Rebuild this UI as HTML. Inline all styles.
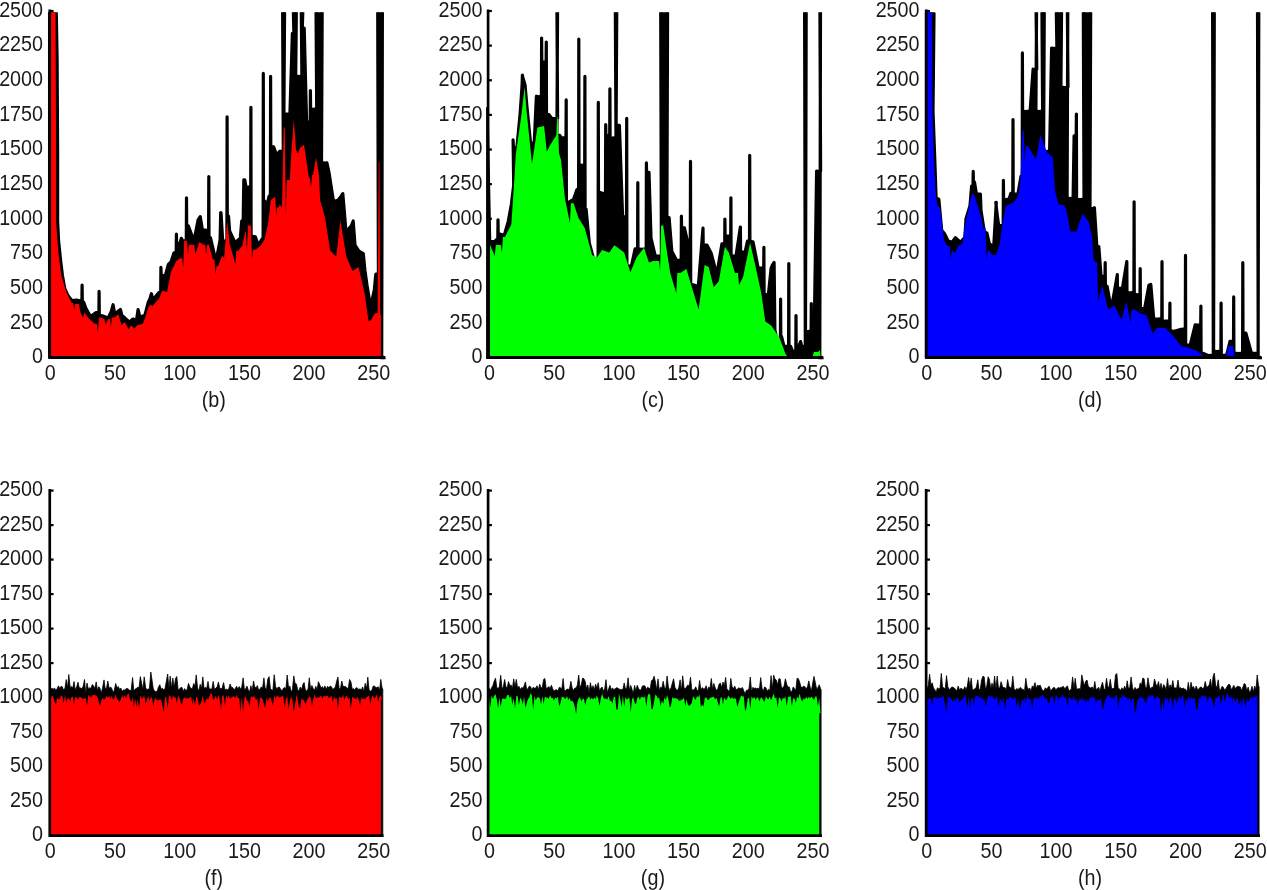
<!DOCTYPE html>
<html><head><meta charset="utf-8"><style>
html,body{margin:0;padding:0;background:#fff;}
body{width:1267px;height:890px;overflow:hidden;}
svg{display:block;}
text{will-change:transform;}
</style></head><body>
<svg width="1267" height="890" viewBox="0 0 1267 890"><rect width="1267" height="890" fill="#fff"/><clipPath id="cp00"><rect x="47.75" y="12.3" width="340" height="347.0"/></clipPath><clipPath id="cp01"><rect x="486.1" y="12.3" width="340" height="347.0"/></clipPath><clipPath id="cp02"><rect x="924.15" y="12.3" width="340" height="347.0"/></clipPath><clipPath id="cp10"><rect x="47.75" y="489.6" width="340" height="348.0"/></clipPath><clipPath id="cp11"><rect x="486.1" y="489.6" width="340" height="348.0"/></clipPath><clipPath id="cp12"><rect x="924.15" y="489.6" width="340" height="348.0"/></clipPath><line x1="49.75" y1="357.30" x2="53.55" y2="357.30" stroke="#000" stroke-width="2.2"/><line x1="49.75" y1="322.67" x2="53.55" y2="322.67" stroke="#000" stroke-width="2.2"/><line x1="49.75" y1="288.04" x2="53.55" y2="288.04" stroke="#000" stroke-width="2.2"/><line x1="49.75" y1="253.41" x2="53.55" y2="253.41" stroke="#000" stroke-width="2.2"/><line x1="49.75" y1="218.78" x2="53.55" y2="218.78" stroke="#000" stroke-width="2.2"/><line x1="49.75" y1="184.15" x2="53.55" y2="184.15" stroke="#000" stroke-width="2.2"/><line x1="49.75" y1="149.52" x2="53.55" y2="149.52" stroke="#000" stroke-width="2.2"/><line x1="49.75" y1="114.89" x2="53.55" y2="114.89" stroke="#000" stroke-width="2.2"/><line x1="49.75" y1="80.26" x2="53.55" y2="80.26" stroke="#000" stroke-width="2.2"/><line x1="49.75" y1="45.63" x2="53.55" y2="45.63" stroke="#000" stroke-width="2.2"/><line x1="49.75" y1="11.00" x2="53.55" y2="11.00" stroke="#000" stroke-width="2.2"/><line x1="488.1" y1="357.30" x2="491.90000000000003" y2="357.30" stroke="#000" stroke-width="2.2"/><line x1="488.1" y1="322.67" x2="491.90000000000003" y2="322.67" stroke="#000" stroke-width="2.2"/><line x1="488.1" y1="288.04" x2="491.90000000000003" y2="288.04" stroke="#000" stroke-width="2.2"/><line x1="488.1" y1="253.41" x2="491.90000000000003" y2="253.41" stroke="#000" stroke-width="2.2"/><line x1="488.1" y1="218.78" x2="491.90000000000003" y2="218.78" stroke="#000" stroke-width="2.2"/><line x1="488.1" y1="184.15" x2="491.90000000000003" y2="184.15" stroke="#000" stroke-width="2.2"/><line x1="488.1" y1="149.52" x2="491.90000000000003" y2="149.52" stroke="#000" stroke-width="2.2"/><line x1="488.1" y1="114.89" x2="491.90000000000003" y2="114.89" stroke="#000" stroke-width="2.2"/><line x1="488.1" y1="80.26" x2="491.90000000000003" y2="80.26" stroke="#000" stroke-width="2.2"/><line x1="488.1" y1="45.63" x2="491.90000000000003" y2="45.63" stroke="#000" stroke-width="2.2"/><line x1="488.1" y1="11.00" x2="491.90000000000003" y2="11.00" stroke="#000" stroke-width="2.2"/><line x1="926.15" y1="357.30" x2="929.9499999999999" y2="357.30" stroke="#000" stroke-width="2.2"/><line x1="926.15" y1="322.67" x2="929.9499999999999" y2="322.67" stroke="#000" stroke-width="2.2"/><line x1="926.15" y1="288.04" x2="929.9499999999999" y2="288.04" stroke="#000" stroke-width="2.2"/><line x1="926.15" y1="253.41" x2="929.9499999999999" y2="253.41" stroke="#000" stroke-width="2.2"/><line x1="926.15" y1="218.78" x2="929.9499999999999" y2="218.78" stroke="#000" stroke-width="2.2"/><line x1="926.15" y1="184.15" x2="929.9499999999999" y2="184.15" stroke="#000" stroke-width="2.2"/><line x1="926.15" y1="149.52" x2="929.9499999999999" y2="149.52" stroke="#000" stroke-width="2.2"/><line x1="926.15" y1="114.89" x2="929.9499999999999" y2="114.89" stroke="#000" stroke-width="2.2"/><line x1="926.15" y1="80.26" x2="929.9499999999999" y2="80.26" stroke="#000" stroke-width="2.2"/><line x1="926.15" y1="45.63" x2="929.9499999999999" y2="45.63" stroke="#000" stroke-width="2.2"/><line x1="926.15" y1="11.00" x2="929.9499999999999" y2="11.00" stroke="#000" stroke-width="2.2"/><line x1="49.75" y1="835.60" x2="53.55" y2="835.60" stroke="#000" stroke-width="2.2"/><line x1="49.75" y1="801.10" x2="53.55" y2="801.10" stroke="#000" stroke-width="2.2"/><line x1="49.75" y1="766.60" x2="53.55" y2="766.60" stroke="#000" stroke-width="2.2"/><line x1="49.75" y1="732.10" x2="53.55" y2="732.10" stroke="#000" stroke-width="2.2"/><line x1="49.75" y1="697.60" x2="53.55" y2="697.60" stroke="#000" stroke-width="2.2"/><line x1="49.75" y1="663.10" x2="53.55" y2="663.10" stroke="#000" stroke-width="2.2"/><line x1="49.75" y1="628.60" x2="53.55" y2="628.60" stroke="#000" stroke-width="2.2"/><line x1="49.75" y1="594.10" x2="53.55" y2="594.10" stroke="#000" stroke-width="2.2"/><line x1="49.75" y1="559.60" x2="53.55" y2="559.60" stroke="#000" stroke-width="2.2"/><line x1="49.75" y1="525.10" x2="53.55" y2="525.10" stroke="#000" stroke-width="2.2"/><line x1="49.75" y1="490.60" x2="53.55" y2="490.60" stroke="#000" stroke-width="2.2"/><line x1="488.1" y1="835.60" x2="491.90000000000003" y2="835.60" stroke="#000" stroke-width="2.2"/><line x1="488.1" y1="801.10" x2="491.90000000000003" y2="801.10" stroke="#000" stroke-width="2.2"/><line x1="488.1" y1="766.60" x2="491.90000000000003" y2="766.60" stroke="#000" stroke-width="2.2"/><line x1="488.1" y1="732.10" x2="491.90000000000003" y2="732.10" stroke="#000" stroke-width="2.2"/><line x1="488.1" y1="697.60" x2="491.90000000000003" y2="697.60" stroke="#000" stroke-width="2.2"/><line x1="488.1" y1="663.10" x2="491.90000000000003" y2="663.10" stroke="#000" stroke-width="2.2"/><line x1="488.1" y1="628.60" x2="491.90000000000003" y2="628.60" stroke="#000" stroke-width="2.2"/><line x1="488.1" y1="594.10" x2="491.90000000000003" y2="594.10" stroke="#000" stroke-width="2.2"/><line x1="488.1" y1="559.60" x2="491.90000000000003" y2="559.60" stroke="#000" stroke-width="2.2"/><line x1="488.1" y1="525.10" x2="491.90000000000003" y2="525.10" stroke="#000" stroke-width="2.2"/><line x1="488.1" y1="490.60" x2="491.90000000000003" y2="490.60" stroke="#000" stroke-width="2.2"/><line x1="926.15" y1="835.60" x2="929.9499999999999" y2="835.60" stroke="#000" stroke-width="2.2"/><line x1="926.15" y1="801.10" x2="929.9499999999999" y2="801.10" stroke="#000" stroke-width="2.2"/><line x1="926.15" y1="766.60" x2="929.9499999999999" y2="766.60" stroke="#000" stroke-width="2.2"/><line x1="926.15" y1="732.10" x2="929.9499999999999" y2="732.10" stroke="#000" stroke-width="2.2"/><line x1="926.15" y1="697.60" x2="929.9499999999999" y2="697.60" stroke="#000" stroke-width="2.2"/><line x1="926.15" y1="663.10" x2="929.9499999999999" y2="663.10" stroke="#000" stroke-width="2.2"/><line x1="926.15" y1="628.60" x2="929.9499999999999" y2="628.60" stroke="#000" stroke-width="2.2"/><line x1="926.15" y1="594.10" x2="929.9499999999999" y2="594.10" stroke="#000" stroke-width="2.2"/><line x1="926.15" y1="559.60" x2="929.9499999999999" y2="559.60" stroke="#000" stroke-width="2.2"/><line x1="926.15" y1="525.10" x2="929.9499999999999" y2="525.10" stroke="#000" stroke-width="2.2"/><line x1="926.15" y1="490.60" x2="929.9499999999999" y2="490.60" stroke="#000" stroke-width="2.2"/><g clip-path="url(#cp00)"><polygon points="49.5,357.3 49.5,11.1 52.0,11.0 54.3,13.0 56.3,13.0 57.1,60.0 57.6,150.0 57.6,221.0 58.6,241.1 60.8,262.2 62.4,275.2 64.8,288.7 68.1,295.8 72.0,300.7 76.5,300.0 78.6,300.8 81.9,300.4 82.1,285.0 82.3,302.0 83.6,302.1 86.0,308.6 90.5,316.6 96.1,312.5 98.9,312.2 99.1,291.3 99.3,315.4 102.2,315.8 108.0,318.1 111.2,311.6 113.1,304.7 114.7,314.1 120.4,309.4 121.8,315.1 129.5,322.1 132.9,319.0 136.5,320.3 138.1,309.5 139.9,317.3 144.9,315.2 148.3,302.2 150.0,298.7 151.4,293.7 152.8,300.0 158.7,292.7 160.7,292.5 160.9,267.3 161.2,275.6 165.3,275.7 168.4,264.4 171.0,261.9 174.0,252.8 176.2,252.7 176.4,234.2 176.6,243.3 180.0,243.4 181.3,238.3 182.5,240.8 186.3,240.5 186.5,197.8 186.7,225.7 188.3,225.8 194.0,241.0 198.1,219.8 200.2,216.6 202.4,229.8 206.1,230.2 208.6,229.7 208.8,176.6 209.0,237.8 210.5,237.9 216.0,261.5 220.1,240.1 220.7,212.5 221.0,212.5 222.7,241.2 226.9,241.1 227.1,116.8 227.3,216.1 228.5,216.2 229.6,230.9 235.0,242.7 240.3,238.3 241.7,221.2 243.2,220.2 243.8,179.8 244.8,179.9 246.0,187.2 250.7,187.1 250.9,107.3 251.1,235.7 253.0,236.2 255.3,236.7 258.3,245.3 262.2,238.9 263.1,238.7 263.3,73.4 263.5,201.1 264.8,201.2 266.8,206.8 269.1,196.2 270.4,196.1 270.6,76.4 270.8,146.6 273.6,146.8 276.5,155.1 279.5,151.4 283.3,151.1 282.6,5.0 284.6,5.0 283.9,114.1 289.9,114.1 292.4,33.4 293.9,33.4 293.2,5.0 296.4,5.0 295.7,76.1 298.9,76.6 301.9,76.1 301.2,5.0 303.0,5.0 302.3,28.1 304.2,28.1 306.6,122.1 310.2,122.2 310.4,90.5 310.6,108.9 312.6,109.3 316.7,108.8 316.0,5.0 322.2,5.0 321.5,162.6 325.2,163.1 326.9,162.8 329.0,172.6 333.5,201.6 338.0,200.3 341.2,196.1 342.8,193.6 346.0,232.0 351.3,225.9 353.2,221.0 355.0,245.2 358.9,251.2 363.3,253.7 364.9,270.2 367.0,285.3 370.6,306.9 374.3,290.2 375.8,274.2 378.4,274.1 377.7,5.0 382.4,5.0 381.7,359.1 384.0,359.6 384.0,357.3" fill="#000" stroke="#000" stroke-width="3.2" stroke-linejoin="round"/><polygon points="50.5,357.3 50.5,12.0 55.5,12.0 56.1,150.0 56.1,221.0 58.2,251.0 61.2,275.0 66.3,292.1 71.8,303.1 73.2,303.1 74.2,310.3 75.2,303.9 76.6,303.9 78.9,304.0 80.5,312.6 82.9,317.4 84.5,312.6 89.2,318.9 94.7,323.7 96.9,323.7 97.9,332.4 98.9,317.4 100.3,317.4 104.2,318.9 105.8,324.5 108.1,318.9 109.9,318.9 110.9,326.8 111.9,317.4 114.5,317.4 118.4,314.2 121.6,325.2 124.7,322.1 128.7,329.2 131.0,325.2 134.2,328.4 137.3,325.2 142.9,323.7 145.2,317.4 148.4,307.1 150.8,304.7 152.3,306.3 156.3,301.6 158.9,298.7 162.3,290.6 167.0,292.0 171.0,271.7 176.4,261.0 179.8,258.2 182.2,258.2 183.2,267.7 184.2,240.7 185.9,240.7 186.9,240.7 187.9,254.2 188.9,244.8 191.3,244.8 194.3,244.8 195.3,254.2 199.4,242.1 203.4,244.8 205.1,244.8 206.1,254.2 207.1,244.8 208.8,244.8 212.9,259.6 214.5,259.6 215.5,274.4 216.5,265.9 218.1,265.9 222.1,255.8 224.1,257.8 227.2,221.4 229.7,243.7 235.3,263.9 236.3,250.7 238.3,250.7 242.3,245.7 245.4,231.5 245.9,231.5 246.9,251.8 247.9,225.5 249.4,225.5 251.0,225.5 252.0,259.9 253.0,249.7 255.5,249.7 260.6,245.7 264.6,239.6 268.6,220.4 270.7,200.2 274.7,197.1 275.2,197.1 276.2,215.3 277.2,207.3 278.8,207.3 279.7,204.3 282.0,208.0 283.7,127.4 284.8,127.4 285.8,215.4 286.8,180.0 289.8,180.0 291.5,150.0 293.8,119.3 296.0,150.0 297.9,153.6 300.0,148.0 304.0,144.5 307.0,165.0 309.0,177.9 310.0,177.9 311.0,188.0 312.0,175.0 313.0,175.0 316.0,157.7 319.0,175.0 320.1,200.2 323.0,210.0 325.2,218.4 330.2,250.8 336.3,256.8 340.3,220.4 346.4,256.8 352.5,271.0 358.5,266.9 364.6,293.2 368.6,321.5 371.0,320.0 374.7,313.4 377.6,313.0 378.7,162.0 379.5,162.0 380.2,313.0 380.9,315.0 380.9,358.0 380.9,357.3" fill="#ff0000"/></g><g clip-path="url(#cp01)"><polygon points="487.0,357.3 487.0,108.5 489.7,241.3 494.6,241.7 496.6,239.5 497.8,239.2 498.0,219.8 498.2,233.6 499.9,234.0 504.2,235.5 508.2,221.6 511.4,204.2 513.7,185.2 513.1,139.8 513.4,147.5 516.9,147.5 520.1,114.1 522.1,85.2 522.4,75.0 522.6,76.8 525.0,84.6 527.0,107.3 530.4,141.3 534.0,147.9 536.4,96.2 538.7,96.7 541.4,96.2 541.6,38.0 541.8,61.8 543.6,62.2 546.1,61.8 546.3,42.0 546.5,114.3 549.0,114.6 552.0,118.6 557.6,118.3 556.9,5.0 557.6,5.0 556.9,135.1 559.7,135.4 561.2,137.9 566.0,137.7 566.2,99.9 566.4,201.8 569.1,202.2 573.5,199.3 576.9,189.7 578.6,189.5 578.8,39.0 579.0,164.8 582.2,165.3 584.7,164.8 584.9,76.4 585.1,209.1 586.1,209.2 589.3,243.0 593.6,258.8 598.1,258.6 598.3,102.3 598.5,192.0 600.4,192.5 602.9,193.6 605.5,193.1 605.7,124.6 605.9,135.2 608.1,135.6 609.7,135.1 609.9,88.8 610.1,137.6 612.6,138.1 616.0,137.6 615.3,5.0 616.8,5.0 616.1,125.3 619.4,125.4 622.6,216.8 626.5,216.7 626.7,118.4 626.9,266.1 631.4,266.2 635.1,248.9 637.6,248.8 637.8,182.6 638.0,248.8 641.5,249.3 646.2,248.8 646.4,162.8 646.6,172.3 649.0,172.3 651.0,238.0 655.3,256.2 661.4,256.1 660.7,5.0 667.6,5.0 666.9,217.5 669.1,217.6 671.8,251.2 676.5,260.3 681.2,260.0 681.4,216.0 681.6,227.7 684.4,227.8 687.5,241.3 690.3,241.1 690.5,161.4 690.7,284.3 693.1,284.8 698.3,286.6 703.0,228.1 703.2,244.9 706.9,245.1 711.2,253.3 716.8,274.7 721.9,243.9 724.7,243.9 724.9,219.0 725.1,235.8 727.9,236.2 730.7,235.8 730.9,197.8 731.1,256.0 736.0,256.1 740.4,227.1 740.6,252.0 745.1,252.0 747.5,241.2 749.5,241.1 749.7,155.4 749.9,241.1 751.8,241.6 753.0,241.8 758.2,268.2 763.7,268.2 763.9,247.3 764.1,294.4 768.4,294.5 771.1,268.4 772.5,264.9 774.1,262.5 774.9,330.2 777.3,341.2 780.4,341.1 780.6,299.1 780.8,336.2 781.5,336.3 784.0,346.3 788.6,346.1 788.8,263.6 789.0,346.1 790.6,346.3 792.6,351.3 795.8,351.2 796.0,315.6 796.2,346.2 798.8,346.4 800.6,341.6 801.6,346.3 805.3,346.1 804.6,5.0 806.2,5.0 805.5,331.1 808.0,331.6 811.1,331.2 811.3,303.6 811.5,341.2 814.1,341.1 816.6,171.1 818.2,171.6 820.6,171.1 819.9,5.0 820.5,5.0 819.8,359.1 822.0,359.6 822.0,357.3" fill="#000" stroke="#000" stroke-width="3.2" stroke-linejoin="round"/><polygon points="490.0,357.3 490.0,245.0 494.8,256.0 495.8,245.0 498.0,245.0 500.9,245.0 501.9,252.8 502.9,237.1 505.0,237.1 511.3,224.5 514.5,177.2 515.8,154.4 521.2,116.6 524.6,87.0 526.6,111.3 532.0,163.9 537.4,127.4 544.1,126.1 546.8,151.7 549.5,146.3 553.6,139.6 556.3,135.5 557.2,117.0 557.8,117.0 559.0,153.1 561.0,160.0 564.9,198.3 569.9,223.0 570.9,203.2 573.6,203.2 578.5,218.0 584.7,227.9 592.1,255.0 597.0,257.5 602.0,250.0 609.4,252.6 614.3,245.2 624.2,252.6 630.4,272.3 636.5,257.5 644.0,247.7 648.9,262.5 653.0,260.9 657.1,260.9 659.1,260.9 660.1,271.0 661.1,225.5 663.2,225.5 666.2,246.8 670.2,273.1 676.3,293.3 677.3,273.1 680.3,273.1 686.4,269.0 692.5,289.2 698.6,309.5 704.6,265.0 708.7,267.0 713.7,287.2 718.8,281.2 724.9,246.8 728.9,252.8 735.0,273.1 738.0,273.1 739.0,285.2 743.1,277.1 750.1,242.7 755.2,265.0 761.3,293.3 765.3,321.6 771.4,325.7 779.5,337.8 785.5,354.0 789.0,358.0 812.0,358.0 814.0,352.0 818.0,352.0 820.0,350.0 820.5,358.0 820.5,357.3" fill="#00ff00"/></g><g clip-path="url(#cp02)"><polygon points="926.5,357.3 926.5,11.1 928.9,11.0 931.3,13.4 934.0,13.5 933.0,111.2 934.8,160.1 936.1,198.1 938.8,199.2 941.7,230.2 944.4,233.5 948.1,240.9 952.1,242.2 955.4,237.7 960.4,242.3 964.9,237.2 966.0,218.7 970.0,205.6 971.6,186.2 973.0,186.2 973.2,171.4 973.4,182.2 974.5,182.2 976.4,193.8 980.4,194.2 981.0,210.5 984.3,231.5 986.9,233.1 989.3,243.4 993.7,247.2 996.3,202.4 995.8,202.4 997.2,214.6 998.7,225.7 1003.2,225.6 1003.4,180.3 1003.6,199.2 1006.0,199.6 1009.0,199.1 1010.9,193.3 1012.8,193.1 1013.0,119.6 1013.2,194.1 1017.9,194.2 1021.0,176.2 1022.2,176.1 1022.4,52.9 1022.6,111.1 1025.5,111.6 1030.1,111.2 1033.1,69.2 1034.5,69.6 1036.8,69.1 1036.0,5.0 1036.6,5.0 1035.9,111.1 1038.8,111.6 1042.6,111.1 1041.9,5.0 1044.3,5.0 1043.6,151.1 1046.5,151.6 1049.6,151.1 1051.6,48.1 1054.0,48.6 1056.9,48.1 1056.2,5.0 1061.6,5.0 1060.9,87.1 1064.4,87.6 1068.0,87.1 1067.3,5.0 1067.8,5.0 1067.1,198.1 1070.5,198.6 1073.1,198.1 1074.1,135.9 1076.2,136.0 1076.4,114.0 1076.6,199.1 1078.6,199.6 1081.0,199.6 1084.0,199.1 1083.3,5.0 1090.7,5.0 1090.0,208.4 1094.1,208.8 1094.4,207.7 1096.8,245.6 1098.8,246.6 1101.1,276.3 1105.0,276.3 1105.2,262.5 1105.4,286.4 1107.1,286.4 1111.3,309.1 1117.3,274.7 1117.5,288.4 1122.4,288.4 1126.8,261.5 1127.0,292.5 1130.5,292.9 1133.9,292.4 1134.1,201.8 1134.3,294.4 1137.6,294.9 1140.0,294.5 1140.2,268.6 1140.4,308.6 1144.6,308.7 1148.9,285.3 1150.8,284.5 1153.7,318.8 1158.4,319.2 1161.8,318.7 1162.0,261.5 1162.2,320.7 1164.9,321.2 1169.7,320.8 1169.9,303.0 1170.1,330.9 1174.2,331.3 1181.3,329.3 1185.3,328.8 1185.5,255.4 1185.7,345.0 1190.2,345.2 1195.2,324.9 1197.2,325.2 1200.7,324.8 1200.9,306.0 1201.1,353.1 1204.0,353.6 1208.7,355.6 1213.3,355.1 1212.6,5.0 1214.3,5.0 1213.6,351.1 1217.0,351.6 1220.9,351.1 1221.1,303.0 1221.3,355.1 1226.6,355.3 1230.0,341.3 1233.5,341.1 1233.7,296.9 1233.9,353.1 1238.7,353.6 1242.6,353.1 1242.8,262.5 1243.0,332.8 1245.8,333.0 1251.5,353.3 1258.2,353.1 1257.5,5.0 1258.8,5.0 1258.1,359.1 1260.4,359.6 1260.4,357.3" fill="#000" stroke="#000" stroke-width="3.2" stroke-linejoin="round"/><polygon points="927.2,357.3 927.2,12.0 932.0,12.0 932.5,111.0 933.5,150.0 935.5,190.0 937.1,204.3 940.1,208.3 944.2,240.7 947.2,245.7 949.7,245.7 950.7,259.9 951.7,250.8 952.3,250.8 955.3,252.8 958.3,245.7 962.4,243.7 964.4,227.5 968.4,210.3 971.5,194.2 974.0,194.2 977.5,205.3 980.6,215.4 983.6,228.6 985.6,228.6 986.6,259.9 987.6,250.8 989.7,250.8 992.2,254.9 995.8,254.9 999.8,244.7 1001.9,226.5 1005.9,206.3 1010.0,204.0 1014.0,202.2 1018.0,196.0 1020.2,185.0 1022.5,130.3 1023.7,130.3 1024.7,161.8 1025.7,146.0 1028.0,146.0 1036.0,159.6 1040.4,134.8 1047.2,152.8 1052.8,157.3 1055.0,191.0 1058.5,204.3 1064.3,205.3 1066.5,210.3 1070.4,231.6 1076.4,231.6 1082.5,213.4 1088.6,221.5 1092.0,236.6 1093.6,259.9 1095.5,262.0 1097.1,262.0 1098.1,301.4 1102.2,285.2 1108.2,309.5 1114.3,305.4 1121.4,319.6 1126.4,301.4 1130.5,323.6 1131.5,309.5 1134.5,309.5 1140.6,313.5 1146.7,315.5 1152.7,333.8 1156.8,327.7 1164.9,327.7 1173.0,335.8 1181.1,345.9 1189.2,347.9 1197.2,350.9 1203.3,356.0 1206.0,358.0 1226.0,358.0 1228.0,346.0 1233.0,346.0 1235.0,358.0 1259.0,358.0 1259.0,357.3" fill="#0000ff"/></g><g clip-path="url(#cp10)"><polygon points="50.2,835.6 50.2,688.6 50.6,688.6 51.9,688.4 53.2,689.2 54.5,688.0 55.9,690.5 57.1,688.7 58.5,685.8 59.8,688.9 61.0,686.3 62.4,686.9 63.6,690.3 65.0,688.1 66.2,679.6 67.5,687.9 68.8,674.5 70.2,687.7 71.5,686.4 72.8,687.9 74.0,681.5 75.3,690.0 76.7,687.0 78.0,682.2 79.2,687.8 80.5,687.9 81.8,688.7 83.2,686.3 84.5,679.5 85.8,694.6 87.0,683.0 88.3,688.9 89.7,687.7 91.0,688.4 92.2,684.6 93.5,685.8 94.8,688.7 96.2,681.9 97.5,690.7 98.8,686.7 100.0,688.4 101.3,693.2 102.7,687.2 104.0,679.9 105.2,688.6 106.5,688.6 107.8,681.0 109.2,688.6 110.5,686.9 111.8,688.6 113.1,692.6 114.3,690.2 115.7,683.5 116.9,687.8 118.2,686.5 119.6,689.3 120.8,688.0 122.2,691.5 123.4,689.9 124.8,689.9 126.1,688.7 127.3,688.4 128.7,689.3 129.9,691.1 131.2,689.6 132.6,677.5 133.8,691.0 135.2,689.0 136.4,688.4 137.8,687.3 139.1,687.5 140.3,676.6 141.7,683.5 142.9,690.0 144.2,676.9 145.6,687.5 146.8,689.7 148.2,689.0 149.4,689.0 150.8,672.0 152.1,680.6 153.3,689.0 154.7,691.2 155.9,691.7 157.2,691.1 158.6,686.7 159.8,684.7 161.2,689.1 162.4,688.3 163.8,690.1 165.1,688.2 166.3,681.6 167.7,674.0 168.9,688.8 170.2,676.2 171.6,688.6 172.8,678.0 174.2,687.8 175.5,678.5 176.8,676.5 178.1,689.7 179.4,689.3 180.7,687.6 182.0,687.4 183.2,691.4 184.6,688.6 185.9,690.6 187.2,689.3 188.5,683.3 189.8,687.0 191.1,688.4 192.4,688.7 193.7,683.5 195.0,686.3 196.2,674.9 197.6,688.1 198.9,691.0 200.2,684.3 201.5,688.9 202.8,676.9 204.1,688.8 205.4,687.2 206.7,688.6 208.0,681.4 209.2,688.7 210.6,689.0 211.9,689.0 213.2,681.4 214.5,689.6 215.8,688.1 217.1,687.1 218.4,682.1 219.7,687.7 221.0,689.2 222.2,687.8 223.6,682.6 224.9,689.9 226.2,689.2 227.5,689.8 228.8,688.9 230.1,684.0 231.4,687.4 232.7,687.5 234.0,689.8 235.2,688.6 236.6,686.4 237.9,689.1 239.2,686.6 240.5,689.2 241.8,686.9 243.1,677.9 244.4,689.4 245.7,688.9 247.0,686.1 248.2,689.8 249.6,691.9 250.9,685.7 252.2,691.2 253.5,681.0 254.8,687.2 256.1,687.8 257.4,685.6 258.6,690.3 259.9,689.2 261.2,687.0 262.6,687.9 263.9,677.9 265.1,687.8 266.4,689.9 267.8,679.0 269.1,676.7 270.4,688.4 271.6,689.8 272.9,690.3 274.2,674.7 275.6,686.7 276.9,688.7 278.1,687.3 279.4,687.1 280.8,689.6 282.1,690.7 283.4,688.3 284.6,687.5 285.9,688.8 287.2,675.0 288.6,687.9 289.9,686.0 291.1,692.1 292.4,689.4 293.8,675.9 295.1,683.6 296.4,683.9 297.6,689.4 298.9,691.2 300.2,687.1 301.6,689.7 302.9,684.3 304.1,682.5 305.4,690.3 306.8,690.9 308.1,688.9 309.3,677.8 310.6,689.6 311.9,685.5 313.2,688.5 314.6,690.2 315.8,686.3 317.1,690.1 318.4,681.7 319.8,684.8 321.1,688.2 322.3,686.6 323.6,688.8 324.9,685.9 326.2,689.4 327.6,686.3 328.8,687.8 330.1,686.1 331.4,686.7 332.8,689.5 334.1,688.2 335.3,687.2 336.6,681.4 337.9,677.0 339.2,689.3 340.6,687.8 341.8,681.0 343.1,686.6 344.4,686.5 345.8,686.7 347.1,688.3 348.3,688.2 349.6,679.5 350.9,681.8 352.2,689.3 353.6,688.6 354.8,689.9 356.1,687.7 357.4,688.2 358.8,689.5 360.1,688.8 361.3,690.2 362.6,686.9 363.9,691.6 365.2,683.4 366.6,688.7 367.8,677.1 369.1,690.0 370.4,691.1 371.8,690.6 373.1,686.2 374.3,686.1 375.6,687.2 376.9,687.7 378.2,686.8 379.6,690.4 380.8,679.4 382.1,688.1 382.8,689.1 382.8,835.6" fill="#000" stroke="#000" stroke-width="0.8" stroke-linejoin="round"/><polygon points="50.2,835.6 50.2,698.6 50.6,698.6 51.9,696.1 53.2,696.3 54.5,701.5 55.9,704.6 57.1,698.4 58.5,698.7 59.8,699.3 61.0,695.2 62.4,696.5 63.6,703.4 65.0,694.6 66.2,703.1 67.5,698.5 68.8,698.3 70.2,701.6 71.5,697.0 72.8,696.5 74.0,704.9 75.3,696.5 76.7,697.9 78.0,699.6 79.2,697.0 80.5,696.9 81.8,697.9 83.2,698.7 84.5,698.5 85.8,698.1 87.0,705.8 88.3,695.0 89.7,696.2 91.0,697.7 92.2,695.5 93.5,694.9 94.8,695.3 96.2,695.6 97.5,697.0 98.8,702.5 100.0,706.2 101.3,700.6 102.7,697.7 104.0,700.1 105.2,698.5 106.5,696.1 107.8,697.5 109.2,696.1 110.5,698.9 111.8,695.7 113.1,699.8 114.3,698.4 115.7,694.2 116.9,698.8 118.2,700.1 119.6,702.2 120.8,699.3 122.2,695.0 123.4,698.1 124.8,695.0 126.1,698.6 127.3,694.8 128.7,693.6 129.9,698.9 131.2,702.0 132.6,697.1 133.8,707.0 135.2,698.3 136.4,707.1 137.8,699.1 139.1,709.3 140.3,695.6 141.7,698.6 142.9,698.3 144.2,695.1 145.6,703.9 146.8,700.6 148.2,696.0 149.4,700.7 150.8,697.8 152.1,697.3 153.3,707.1 154.7,698.3 155.9,698.5 157.2,700.6 158.6,700.2 159.8,699.4 161.2,699.9 162.4,705.2 163.8,711.9 165.1,696.2 166.3,697.8 167.7,708.5 168.9,697.1 170.2,695.1 171.6,700.2 172.8,695.7 174.2,697.2 175.5,697.2 176.8,703.2 178.1,695.4 179.4,697.8 180.7,702.8 182.0,704.9 183.2,698.6 184.6,697.4 185.9,698.7 187.2,697.4 188.5,698.8 189.8,697.5 191.1,696.5 192.4,704.6 193.7,698.5 195.0,705.3 196.2,696.6 197.6,698.2 198.9,706.1 200.2,704.4 201.5,701.0 202.8,695.3 204.1,703.6 205.4,701.6 206.7,698.0 208.0,699.5 209.2,697.1 210.6,693.4 211.9,693.8 213.2,699.7 214.5,698.4 215.8,695.7 217.1,699.8 218.4,695.1 219.7,699.5 221.0,710.1 222.2,696.0 223.6,695.2 224.9,705.7 226.2,695.1 227.5,698.5 228.8,695.2 230.1,698.9 231.4,697.6 232.7,696.7 234.0,696.1 235.2,698.2 236.6,695.1 237.9,698.1 239.2,697.8 240.5,712.3 241.8,696.2 243.1,712.0 244.4,698.1 245.7,696.5 247.0,700.7 248.2,700.7 249.6,707.5 250.9,696.1 252.2,697.6 253.5,696.3 254.8,696.9 256.1,700.1 257.4,698.2 258.6,709.4 259.9,698.3 261.2,697.6 262.6,699.2 263.9,704.2 265.1,708.3 266.4,697.9 267.8,701.8 269.1,698.2 270.4,697.2 271.6,700.9 272.9,705.5 274.2,695.5 275.6,698.5 276.9,695.8 278.1,696.4 279.4,697.6 280.8,696.9 282.1,695.9 283.4,696.4 284.6,708.6 285.9,699.2 287.2,695.9 288.6,708.4 289.9,700.7 291.1,696.5 292.4,700.1 293.8,712.0 295.1,704.1 296.4,695.1 297.6,698.4 298.9,707.3 300.2,707.9 301.6,698.1 302.9,700.0 304.1,700.2 305.4,704.6 306.8,700.4 308.1,698.2 309.3,696.8 310.6,697.1 311.9,706.5 313.2,699.4 314.6,694.8 315.8,697.9 317.1,697.6 318.4,697.6 319.8,696.9 321.1,695.3 322.3,699.1 323.6,696.0 324.9,696.6 326.2,696.0 327.6,695.7 328.8,697.9 330.1,697.2 331.4,695.5 332.8,702.6 334.1,696.4 335.3,699.0 336.6,697.6 337.9,708.8 339.2,696.9 340.6,697.3 341.8,698.2 343.1,694.6 344.4,700.3 345.8,696.1 347.1,696.2 348.3,699.4 349.6,697.7 350.9,709.0 352.2,696.4 353.6,698.2 354.8,697.9 356.1,699.6 357.4,696.3 358.8,700.4 360.1,705.8 361.3,697.0 362.6,699.3 363.9,698.5 365.2,699.6 366.6,697.1 367.8,696.6 369.1,695.3 370.4,704.9 371.8,696.3 373.1,696.0 374.3,698.7 375.6,696.8 376.9,694.5 378.2,702.0 379.6,696.4 380.8,695.6 382.1,699.6 380.9,699.6 380.9,835.6" fill="#ff0000"/></g><g clip-path="url(#cp11)"><polygon points="488.6,835.6 488.6,688.1 489.0,688.1 490.3,690.6 491.6,687.7 492.9,685.5 494.2,681.1 495.5,678.2 496.8,687.2 498.1,689.0 499.4,686.3 500.7,675.2 502.0,688.4 503.3,687.0 504.6,679.5 505.9,686.6 507.2,688.1 508.5,681.6 509.8,685.7 511.1,684.9 512.4,689.0 513.7,678.8 515.0,687.1 516.3,679.4 517.6,688.3 518.9,686.2 520.2,689.6 521.5,687.6 522.8,688.2 524.1,685.9 525.4,681.9 526.7,689.5 528.0,688.7 529.3,686.1 530.6,686.8 531.9,690.0 533.2,687.2 534.5,688.2 535.8,688.0 537.1,685.7 538.4,690.1 539.7,684.1 541.0,687.9 542.3,687.5 543.6,679.4 544.9,678.5 546.2,688.5 547.5,687.9 548.8,686.5 550.1,688.8 551.4,685.2 552.7,688.7 554.0,691.3 555.3,689.9 556.6,689.7 557.9,690.9 559.2,687.4 560.5,687.7 561.8,689.3 563.1,678.5 564.4,691.2 565.7,690.5 567.0,689.0 568.3,689.4 569.6,688.4 570.9,681.3 572.2,688.0 573.5,690.5 574.8,688.1 576.1,688.0 577.4,685.1 578.7,675.0 580.0,687.9 581.3,684.7 582.6,678.1 583.9,678.8 585.2,681.4 586.5,688.7 587.8,685.0 589.1,692.7 590.4,682.7 591.7,689.0 593.0,685.7 594.3,690.2 595.6,684.1 596.9,688.4 598.2,682.7 599.5,691.1 600.8,688.3 602.1,687.0 603.4,691.0 604.7,689.1 606.0,679.7 607.3,692.4 608.6,689.1 609.9,685.3 611.2,689.4 612.5,688.1 613.8,689.4 615.1,689.0 616.4,687.7 617.7,688.1 619.0,689.1 620.3,689.4 621.6,689.4 622.9,689.5 624.2,682.9 625.5,689.2 626.8,687.8 628.1,677.8 629.4,690.7 630.7,685.5 632.0,689.3 633.3,693.8 634.6,685.5 635.9,691.2 637.2,685.3 638.5,688.4 639.8,690.2 641.1,689.8 642.4,686.0 643.7,685.7 645.0,686.0 646.3,689.5 647.6,687.2 648.9,688.1 650.2,689.0 651.5,680.6 652.8,679.9 654.1,676.2 655.4,681.9 656.7,690.1 658.0,678.9 659.3,690.4 660.6,687.3 661.9,687.9 663.2,681.3 664.5,688.1 665.8,688.6 667.1,676.0 668.4,687.1 669.7,690.4 671.0,687.9 672.3,683.2 673.6,678.8 674.9,687.3 676.2,689.5 677.5,690.5 678.8,687.4 680.1,679.9 681.4,691.4 682.7,675.8 684.0,687.5 685.3,688.9 686.6,686.8 687.9,684.9 689.2,686.3 690.5,677.1 691.8,690.1 693.1,689.9 694.4,689.6 695.7,686.8 697.0,690.3 698.3,690.9 699.6,680.5 700.9,690.1 702.2,687.6 703.5,688.8 704.8,689.0 706.1,685.7 707.4,690.8 708.7,686.9 710.0,688.3 711.3,678.5 712.6,689.2 713.9,683.5 715.2,688.0 716.5,690.4 717.8,688.8 719.1,684.1 720.4,683.1 721.7,687.6 723.0,682.0 724.3,686.5 725.6,677.4 726.9,689.3 728.2,690.3 729.5,691.5 730.8,678.4 732.1,687.1 733.4,688.6 734.7,686.0 736.0,689.7 737.3,689.2 738.6,687.8 739.9,688.4 741.2,688.4 742.5,687.5 743.8,690.9 745.1,694.1 746.4,690.2 747.7,690.3 749.0,688.4 750.3,677.0 751.6,692.0 752.9,687.3 754.2,688.7 755.5,687.8 756.8,689.1 758.1,687.9 759.4,689.3 760.7,677.6 762.0,688.2 763.3,690.9 764.6,687.0 765.9,687.8 767.2,691.2 768.5,689.3 769.8,690.5 771.1,675.6 772.4,688.7 773.7,675.2 775.0,679.3 776.3,680.0 777.6,685.1 778.9,678.7 780.2,679.0 781.5,687.5 782.8,688.0 784.1,685.8 785.4,678.8 786.7,684.2 788.0,687.3 789.3,686.9 790.6,691.8 791.9,691.5 793.2,686.9 794.5,688.7 795.8,690.4 797.1,678.2 798.4,678.7 799.7,682.3 801.0,687.1 802.3,687.5 803.6,686.1 804.9,686.7 806.2,689.3 807.5,686.6 808.8,680.9 810.1,687.0 811.4,691.1 812.7,683.2 814.0,676.4 815.3,682.5 816.6,688.9 817.9,687.9 819.2,684.8 820.5,688.5 821.1,689.5 821.1,835.6" fill="#000" stroke="#000" stroke-width="0.8" stroke-linejoin="round"/><polygon points="488.6,835.6 488.6,697.0 489.0,697.0 490.3,707.5 491.6,695.2 492.9,699.1 494.2,696.1 495.5,694.1 496.8,699.2 498.1,708.5 499.4,697.5 500.7,707.0 502.0,698.8 503.3,698.6 504.6,699.1 505.9,698.8 507.2,694.9 508.5,695.0 509.8,698.0 511.1,696.1 512.4,704.7 513.7,698.1 515.0,708.4 516.3,696.1 517.6,696.1 518.9,705.3 520.2,697.7 521.5,699.4 522.8,704.4 524.1,696.2 525.4,707.9 526.7,703.3 528.0,699.0 529.3,697.4 530.6,693.0 531.9,695.6 533.2,709.9 534.5,696.1 535.8,700.6 537.1,697.2 538.4,697.4 539.7,698.1 541.0,704.3 542.3,695.8 543.6,704.3 544.9,696.5 546.2,697.7 547.5,697.6 548.8,699.1 550.1,695.1 551.4,697.9 552.7,698.1 554.0,700.5 555.3,697.4 556.6,698.4 557.9,696.5 559.2,706.6 560.5,703.1 561.8,696.8 563.1,697.1 564.4,698.0 565.7,698.9 567.0,696.1 568.3,699.9 569.6,697.7 570.9,701.5 572.2,700.6 573.5,702.4 574.8,706.8 576.1,714.1 577.4,702.2 578.7,698.8 580.0,697.0 581.3,701.4 582.6,698.9 583.9,698.5 585.2,705.1 586.5,699.6 587.8,698.1 589.1,696.3 590.4,699.8 591.7,697.7 593.0,699.4 594.3,697.4 595.6,699.1 596.9,695.4 598.2,698.8 599.5,706.0 600.8,698.4 602.1,693.4 603.4,697.8 604.7,699.1 606.0,698.6 607.3,699.7 608.6,696.1 609.9,700.8 611.2,700.8 612.5,703.4 613.8,696.8 615.1,696.9 616.4,709.5 617.7,709.4 619.0,693.5 620.3,698.9 621.6,706.9 622.9,695.6 624.2,706.8 625.5,696.9 626.8,699.6 628.1,698.8 629.4,697.6 630.7,712.4 632.0,699.2 633.3,697.3 634.6,702.8 635.9,704.5 637.2,698.5 638.5,696.6 639.8,699.7 641.1,697.0 642.4,697.1 643.7,697.8 645.0,696.2 646.3,706.8 647.6,696.0 648.9,693.4 650.2,694.8 651.5,708.9 652.8,708.9 654.1,701.2 655.4,694.6 656.7,695.9 658.0,698.5 659.3,697.8 660.6,706.4 661.9,700.2 663.2,703.9 664.5,697.4 665.8,699.9 667.1,695.0 668.4,699.2 669.7,707.8 671.0,705.7 672.3,697.0 673.6,698.4 674.9,698.1 676.2,698.6 677.5,698.7 678.8,700.7 680.1,701.1 681.4,699.6 682.7,699.4 684.0,697.6 685.3,706.2 686.6,699.2 687.9,704.8 689.2,706.1 690.5,704.4 691.8,702.9 693.1,696.1 694.4,698.4 695.7,700.0 697.0,696.1 698.3,697.3 699.6,694.5 700.9,707.0 702.2,704.4 703.5,706.6 704.8,698.2 706.1,697.0 707.4,699.8 708.7,700.0 710.0,697.7 711.3,697.5 712.6,697.3 713.9,696.8 715.2,699.5 716.5,697.7 717.8,702.6 719.1,706.8 720.4,698.3 721.7,696.7 723.0,704.5 724.3,697.3 725.6,700.1 726.9,699.6 728.2,695.4 729.5,697.3 730.8,698.9 732.1,696.9 733.4,698.9 734.7,698.2 736.0,698.8 737.3,707.2 738.6,702.6 739.9,698.8 741.2,695.6 742.5,696.4 743.8,696.3 745.1,711.3 746.4,708.0 747.7,698.5 749.0,697.8 750.3,709.0 751.6,696.3 752.9,698.7 754.2,696.7 755.5,700.0 756.8,697.7 758.1,697.5 759.4,701.4 760.7,697.7 762.0,697.8 763.3,700.5 764.6,702.1 765.9,696.3 767.2,698.6 768.5,699.2 769.8,696.5 771.1,700.3 772.4,697.0 773.7,693.5 775.0,698.6 776.3,697.3 777.6,708.0 778.9,697.7 780.2,698.1 781.5,701.8 782.8,697.8 784.1,698.8 785.4,696.2 786.7,706.4 788.0,696.7 789.3,696.9 790.6,695.7 791.9,706.2 793.2,697.9 794.5,698.8 795.8,703.1 797.1,696.7 798.4,698.4 799.7,693.4 801.0,699.2 802.3,701.5 803.6,698.2 804.9,699.4 806.2,696.8 807.5,699.1 808.8,696.7 810.1,698.3 811.4,696.8 812.7,698.1 814.0,700.0 815.3,696.4 816.6,696.5 817.9,706.2 819.2,697.9 820.5,713.3 819.3,713.3 819.3,835.6" fill="#00ff00"/></g><g clip-path="url(#cp12)"><polygon points="926.6,835.6 926.6,689.0 927.0,689.0 928.3,685.4 929.6,674.3 930.9,685.2 932.2,682.8 933.5,688.1 934.8,689.6 936.1,692.5 937.4,687.8 938.8,688.9 940.0,688.4 941.3,673.4 942.6,687.5 943.9,687.7 945.2,689.3 946.5,675.6 947.8,686.5 949.1,689.7 950.4,688.5 951.8,687.0 953.0,687.2 954.3,688.0 955.6,689.6 956.9,690.8 958.2,686.0 959.5,690.2 960.8,688.2 962.1,688.9 963.4,690.1 964.8,686.7 966.0,690.0 967.3,686.2 968.6,677.5 969.9,686.8 971.2,678.1 972.5,690.8 973.8,689.3 975.1,688.8 976.4,687.1 977.8,679.8 979.0,690.0 980.3,689.0 981.6,679.9 982.9,676.2 984.2,676.9 985.5,689.7 986.8,685.9 988.1,676.8 989.4,679.3 990.8,689.2 992.0,683.2 993.3,688.4 994.6,676.1 995.9,689.9 997.2,676.0 998.5,688.6 999.8,687.5 1001.1,681.7 1002.4,686.3 1003.8,688.0 1005.0,687.6 1006.3,690.5 1007.6,679.6 1008.9,686.6 1010.2,687.4 1011.5,688.4 1012.8,676.2 1014.1,689.2 1015.4,690.2 1016.8,688.5 1018.0,689.4 1019.3,688.4 1020.6,687.4 1021.9,689.4 1023.2,689.2 1024.5,691.4 1025.8,678.3 1027.1,687.1 1028.5,689.3 1029.8,688.1 1031.0,691.2 1032.3,685.9 1033.6,687.4 1035.0,682.6 1036.2,688.8 1037.5,685.2 1038.8,685.9 1040.1,685.1 1041.5,688.5 1042.8,690.8 1044.0,690.7 1045.3,687.8 1046.6,689.3 1048.0,687.3 1049.2,686.2 1050.5,690.4 1051.8,689.7 1053.1,687.8 1054.5,687.5 1055.8,689.7 1057.0,688.6 1058.3,687.5 1059.6,688.1 1061.0,687.4 1062.2,687.0 1063.5,686.4 1064.8,689.2 1066.1,687.1 1067.5,685.9 1068.8,691.1 1070.0,690.1 1071.3,689.3 1072.6,676.9 1074.0,689.0 1075.2,678.3 1076.5,688.7 1077.8,689.1 1079.1,688.4 1080.5,689.4 1081.8,674.9 1083.0,680.6 1084.3,685.8 1085.6,681.3 1087.0,680.0 1088.2,685.9 1089.5,687.5 1090.8,688.0 1092.1,686.9 1093.5,689.8 1094.8,681.5 1096.0,689.4 1097.3,689.1 1098.6,687.2 1100.0,690.9 1101.2,686.3 1102.5,682.2 1103.8,688.8 1105.1,689.8 1106.5,678.3 1107.8,687.0 1109.0,687.4 1110.3,679.3 1111.6,688.8 1113.0,688.6 1114.2,688.3 1115.5,674.9 1116.8,673.5 1118.1,687.6 1119.5,689.2 1120.8,690.2 1122.0,687.8 1123.3,690.2 1124.6,686.2 1126.0,689.7 1127.2,680.8 1128.5,689.1 1129.8,687.2 1131.1,677.0 1132.5,687.7 1133.8,691.0 1135.0,687.4 1136.3,689.5 1137.6,688.7 1139.0,688.6 1140.2,682.9 1141.5,685.0 1142.8,678.1 1144.1,678.7 1145.5,688.5 1146.8,686.9 1148.0,677.8 1149.3,686.0 1150.6,689.3 1152.0,687.0 1153.2,687.5 1154.5,679.0 1155.8,683.8 1157.1,687.0 1158.5,681.6 1159.8,689.6 1161.0,683.3 1162.3,690.2 1163.6,684.6 1165.0,686.7 1166.2,690.4 1167.5,678.6 1168.8,689.2 1170.1,684.8 1171.5,688.0 1172.8,680.5 1174.0,688.1 1175.3,687.9 1176.7,688.2 1178.0,680.1 1179.2,688.4 1180.5,687.6 1181.8,688.7 1183.2,688.1 1184.5,689.0 1185.8,689.5 1187.0,691.9 1188.3,682.4 1189.7,691.7 1191.0,682.2 1192.2,687.8 1193.5,686.4 1194.8,690.3 1196.2,686.1 1197.5,689.8 1198.8,689.0 1200.0,687.3 1201.3,687.0 1202.7,688.5 1204.0,687.7 1205.2,681.5 1206.5,687.3 1207.8,686.5 1209.2,685.2 1210.5,679.1 1211.8,689.1 1213.0,676.8 1214.3,673.1 1215.7,686.0 1217.0,687.2 1218.2,679.8 1219.5,690.4 1220.8,689.6 1222.2,686.2 1223.5,687.6 1224.8,690.5 1226.0,688.4 1227.3,686.2 1228.7,684.2 1230.0,684.9 1231.2,689.5 1232.5,688.0 1233.8,685.3 1235.2,688.7 1236.5,686.9 1237.8,686.3 1239.0,686.8 1240.3,687.0 1241.7,690.8 1243.0,686.8 1244.2,683.5 1245.5,684.6 1246.8,691.0 1248.2,687.1 1249.5,692.4 1250.8,690.6 1252.0,686.3 1253.3,691.7 1254.7,686.0 1256.0,689.7 1257.2,675.0 1258.5,685.8 1259.1,686.8 1259.1,835.6" fill="#000" stroke="#000" stroke-width="0.8" stroke-linejoin="round"/><polygon points="926.6,835.6 926.6,699.7 927.0,699.7 928.3,698.7 929.6,698.2 930.9,698.5 932.2,705.3 933.5,697.8 934.8,696.4 936.1,699.3 937.4,698.3 938.8,697.8 940.0,697.5 941.3,697.8 942.6,695.6 943.9,697.8 945.2,705.4 946.5,713.0 947.8,696.5 949.1,697.3 950.4,698.0 951.8,699.2 953.0,702.5 954.3,697.9 955.6,701.2 956.9,697.7 958.2,698.1 959.5,702.2 960.8,700.3 962.1,699.3 963.4,698.6 964.8,695.6 966.0,696.9 967.3,708.5 968.6,695.0 969.9,709.6 971.2,698.9 972.5,697.0 973.8,706.0 975.1,696.2 976.4,696.3 977.8,696.1 979.0,696.4 980.3,698.0 981.6,696.8 982.9,700.3 984.2,697.9 985.5,707.1 986.8,700.7 988.1,696.6 989.4,695.5 990.8,697.3 992.0,695.4 993.3,697.9 994.6,699.2 995.9,698.0 997.2,696.4 998.5,707.6 999.8,698.5 1001.1,699.9 1002.4,702.8 1003.8,697.3 1005.0,710.4 1006.3,698.7 1007.6,698.9 1008.9,699.0 1010.2,696.4 1011.5,697.5 1012.8,699.5 1014.1,697.4 1015.4,697.5 1016.8,707.0 1018.0,698.8 1019.3,707.4 1020.6,707.7 1021.9,698.3 1023.2,701.3 1024.5,697.7 1025.8,703.4 1027.1,695.2 1028.5,699.3 1029.8,699.3 1031.0,699.3 1032.3,709.7 1033.6,698.5 1035.0,697.6 1036.2,699.3 1037.5,697.8 1038.8,699.3 1040.1,695.4 1041.5,697.0 1042.8,694.3 1044.0,697.3 1045.3,699.1 1046.6,697.5 1048.0,702.1 1049.2,703.8 1050.5,697.1 1051.8,696.4 1053.1,696.8 1054.5,705.5 1055.8,695.0 1057.0,695.7 1058.3,700.8 1059.6,696.5 1061.0,698.3 1062.2,694.8 1063.5,696.7 1064.8,697.9 1066.1,696.9 1067.5,707.4 1068.8,697.1 1070.0,697.4 1071.3,699.2 1072.6,699.9 1074.0,695.8 1075.2,701.6 1076.5,697.8 1077.8,706.6 1079.1,699.2 1080.5,699.8 1081.8,696.8 1083.0,701.1 1084.3,698.2 1085.6,702.7 1087.0,699.0 1088.2,702.2 1089.5,698.0 1090.8,698.3 1092.1,696.7 1093.5,697.8 1094.8,697.3 1096.0,703.8 1097.3,699.4 1098.6,700.1 1100.0,700.0 1101.2,697.7 1102.5,709.4 1103.8,706.5 1105.1,699.4 1106.5,697.6 1107.8,696.0 1109.0,694.4 1110.3,698.3 1111.6,696.9 1113.0,697.9 1114.2,699.7 1115.5,695.2 1116.8,694.8 1118.1,708.8 1119.5,698.3 1120.8,697.4 1122.0,697.1 1123.3,695.1 1124.6,697.6 1126.0,696.6 1127.2,698.8 1128.5,699.7 1129.8,697.2 1131.1,702.9 1132.5,698.3 1133.8,699.2 1135.0,713.3 1136.3,709.8 1137.6,699.0 1139.0,698.8 1140.2,696.6 1141.5,697.4 1142.8,698.1 1144.1,699.4 1145.5,703.8 1146.8,701.1 1148.0,695.2 1149.3,697.0 1150.6,694.6 1152.0,696.7 1153.2,694.6 1154.5,699.4 1155.8,698.8 1157.1,695.5 1158.5,697.9 1159.8,698.6 1161.0,712.5 1162.3,698.8 1163.6,710.8 1165.0,697.7 1166.2,698.8 1167.5,698.3 1168.8,703.7 1170.1,696.0 1171.5,700.0 1172.8,709.0 1174.0,697.7 1175.3,699.3 1176.7,703.2 1178.0,700.1 1179.2,696.2 1180.5,699.4 1181.8,696.0 1183.2,695.8 1184.5,708.0 1185.8,698.6 1187.0,701.9 1188.3,695.8 1189.7,700.3 1191.0,696.9 1192.2,698.4 1193.5,698.7 1194.8,697.4 1196.2,709.5 1197.5,709.3 1198.8,697.6 1200.0,699.4 1201.3,696.5 1202.7,695.3 1204.0,697.1 1205.2,695.4 1206.5,697.3 1207.8,702.2 1209.2,696.3 1210.5,698.0 1211.8,698.0 1213.0,702.4 1214.3,708.3 1215.7,697.3 1217.0,698.0 1218.2,696.6 1219.5,695.6 1220.8,704.1 1222.2,698.6 1223.5,693.7 1224.8,702.6 1226.0,696.2 1227.3,692.9 1228.7,696.2 1230.0,698.5 1231.2,695.1 1232.5,703.7 1233.8,695.4 1235.2,702.7 1236.5,698.0 1237.8,699.1 1239.0,705.6 1240.3,699.0 1241.7,706.5 1243.0,697.0 1244.2,700.3 1245.5,707.9 1246.8,698.1 1248.2,702.3 1249.5,699.8 1250.8,696.8 1252.0,698.7 1253.3,697.1 1254.7,697.6 1256.0,695.4 1257.2,698.5 1258.5,695.6 1257.3,695.6 1257.3,835.6" fill="#0000ff"/></g><path d="M49.75,10.8 L49.75,357.3 L382.25,357.3" fill="none" stroke="#000" stroke-width="2.7" stroke-linecap="square" stroke-linejoin="miter"/><path d="M488.1,10.8 L488.1,357.3 L820.6,357.3" fill="none" stroke="#000" stroke-width="2.7" stroke-linecap="square" stroke-linejoin="miter"/><path d="M926.15,10.8 L926.15,357.3 L1258.65,357.3" fill="none" stroke="#000" stroke-width="2.7" stroke-linecap="square" stroke-linejoin="miter"/><path d="M49.75,490.40000000000003 L49.75,835.6 L382.25,835.6" fill="none" stroke="#000" stroke-width="2.7" stroke-linecap="square" stroke-linejoin="miter"/><path d="M488.1,490.40000000000003 L488.1,835.6 L820.6,835.6" fill="none" stroke="#000" stroke-width="2.7" stroke-linecap="square" stroke-linejoin="miter"/><path d="M926.15,490.40000000000003 L926.15,835.6 L1258.65,835.6" fill="none" stroke="#000" stroke-width="2.7" stroke-linecap="square" stroke-linejoin="miter"/><g font-family='"Liberation Sans", sans-serif' font-size="21.5" fill="#1a1a1a"><text transform="translate(43.10,363.15) scale(0.92,1)" text-anchor="end">0</text><text transform="translate(43.10,328.52) scale(0.92,1)" text-anchor="end">250</text><text transform="translate(43.10,293.89) scale(0.92,1)" text-anchor="end">500</text><text transform="translate(43.10,259.26) scale(0.92,1)" text-anchor="end">750</text><text transform="translate(43.10,224.63) scale(0.92,1)" text-anchor="end">1000</text><text transform="translate(43.10,190.00) scale(0.92,1)" text-anchor="end">1250</text><text transform="translate(43.10,155.37) scale(0.92,1)" text-anchor="end">1500</text><text transform="translate(43.10,120.74) scale(0.92,1)" text-anchor="end">1750</text><text transform="translate(43.10,86.11) scale(0.92,1)" text-anchor="end">2000</text><text transform="translate(43.10,51.48) scale(0.92,1)" text-anchor="end">2250</text><text transform="translate(43.10,16.85) scale(0.92,1)" text-anchor="end">2500</text><text transform="translate(50.30,380.10) scale(0.92,1)" text-anchor="middle">0</text><text transform="translate(115.00,380.10) scale(0.92,1)" text-anchor="middle">50</text><text transform="translate(179.70,380.10) scale(0.92,1)" text-anchor="middle">100</text><text transform="translate(244.40,380.10) scale(0.92,1)" text-anchor="middle">150</text><text transform="translate(309.10,380.10) scale(0.92,1)" text-anchor="middle">200</text><text transform="translate(373.80,380.10) scale(0.92,1)" text-anchor="middle">250</text><text transform="translate(213.70,406.60) scale(0.92,1)" text-anchor="middle">(b)</text></g><g font-family='"Liberation Sans", sans-serif' font-size="21.5" fill="#1a1a1a"><text transform="translate(482.40,363.15) scale(0.92,1)" text-anchor="end">0</text><text transform="translate(482.40,328.52) scale(0.92,1)" text-anchor="end">250</text><text transform="translate(482.40,293.89) scale(0.92,1)" text-anchor="end">500</text><text transform="translate(482.40,259.26) scale(0.92,1)" text-anchor="end">750</text><text transform="translate(482.40,224.63) scale(0.92,1)" text-anchor="end">1000</text><text transform="translate(482.40,190.00) scale(0.92,1)" text-anchor="end">1250</text><text transform="translate(482.40,155.37) scale(0.92,1)" text-anchor="end">1500</text><text transform="translate(482.40,120.74) scale(0.92,1)" text-anchor="end">1750</text><text transform="translate(482.40,86.11) scale(0.92,1)" text-anchor="end">2000</text><text transform="translate(482.40,51.48) scale(0.92,1)" text-anchor="end">2250</text><text transform="translate(482.40,16.85) scale(0.92,1)" text-anchor="end">2500</text><text transform="translate(489.50,380.10) scale(0.92,1)" text-anchor="middle">0</text><text transform="translate(554.20,380.10) scale(0.92,1)" text-anchor="middle">50</text><text transform="translate(618.90,380.10) scale(0.92,1)" text-anchor="middle">100</text><text transform="translate(683.60,380.10) scale(0.92,1)" text-anchor="middle">150</text><text transform="translate(748.30,380.10) scale(0.92,1)" text-anchor="middle">200</text><text transform="translate(813.00,380.10) scale(0.92,1)" text-anchor="middle">250</text><text transform="translate(652.90,406.60) scale(0.92,1)" text-anchor="middle">(c)</text></g><g font-family='"Liberation Sans", sans-serif' font-size="21.5" fill="#1a1a1a"><text transform="translate(919.60,363.15) scale(0.92,1)" text-anchor="end">0</text><text transform="translate(919.60,328.52) scale(0.92,1)" text-anchor="end">250</text><text transform="translate(919.60,293.89) scale(0.92,1)" text-anchor="end">500</text><text transform="translate(919.60,259.26) scale(0.92,1)" text-anchor="end">750</text><text transform="translate(919.60,224.63) scale(0.92,1)" text-anchor="end">1000</text><text transform="translate(919.60,190.00) scale(0.92,1)" text-anchor="end">1250</text><text transform="translate(919.60,155.37) scale(0.92,1)" text-anchor="end">1500</text><text transform="translate(919.60,120.74) scale(0.92,1)" text-anchor="end">1750</text><text transform="translate(919.60,86.11) scale(0.92,1)" text-anchor="end">2000</text><text transform="translate(919.60,51.48) scale(0.92,1)" text-anchor="end">2250</text><text transform="translate(919.60,16.85) scale(0.92,1)" text-anchor="end">2500</text><text transform="translate(926.70,380.10) scale(0.92,1)" text-anchor="middle">0</text><text transform="translate(991.40,380.10) scale(0.92,1)" text-anchor="middle">50</text><text transform="translate(1056.10,380.10) scale(0.92,1)" text-anchor="middle">100</text><text transform="translate(1120.80,380.10) scale(0.92,1)" text-anchor="middle">150</text><text transform="translate(1185.50,380.10) scale(0.92,1)" text-anchor="middle">200</text><text transform="translate(1250.20,380.10) scale(0.92,1)" text-anchor="middle">250</text><text transform="translate(1090.10,406.60) scale(0.92,1)" text-anchor="middle">(d)</text></g><g font-family='"Liberation Sans", sans-serif' font-size="21.5" fill="#1a1a1a"><text transform="translate(43.10,841.45) scale(0.92,1)" text-anchor="end">0</text><text transform="translate(43.10,806.95) scale(0.92,1)" text-anchor="end">250</text><text transform="translate(43.10,772.45) scale(0.92,1)" text-anchor="end">500</text><text transform="translate(43.10,737.95) scale(0.92,1)" text-anchor="end">750</text><text transform="translate(43.10,703.45) scale(0.92,1)" text-anchor="end">1000</text><text transform="translate(43.10,668.95) scale(0.92,1)" text-anchor="end">1250</text><text transform="translate(43.10,634.45) scale(0.92,1)" text-anchor="end">1500</text><text transform="translate(43.10,599.95) scale(0.92,1)" text-anchor="end">1750</text><text transform="translate(43.10,565.45) scale(0.92,1)" text-anchor="end">2000</text><text transform="translate(43.10,530.95) scale(0.92,1)" text-anchor="end">2250</text><text transform="translate(43.10,496.45) scale(0.92,1)" text-anchor="end">2500</text><text transform="translate(50.30,858.40) scale(0.92,1)" text-anchor="middle">0</text><text transform="translate(115.00,858.40) scale(0.92,1)" text-anchor="middle">50</text><text transform="translate(179.70,858.40) scale(0.92,1)" text-anchor="middle">100</text><text transform="translate(244.40,858.40) scale(0.92,1)" text-anchor="middle">150</text><text transform="translate(309.10,858.40) scale(0.92,1)" text-anchor="middle">200</text><text transform="translate(373.80,858.40) scale(0.92,1)" text-anchor="middle">250</text><text transform="translate(213.70,884.90) scale(0.92,1)" text-anchor="middle">(f)</text></g><g font-family='"Liberation Sans", sans-serif' font-size="21.5" fill="#1a1a1a"><text transform="translate(482.40,841.45) scale(0.92,1)" text-anchor="end">0</text><text transform="translate(482.40,806.95) scale(0.92,1)" text-anchor="end">250</text><text transform="translate(482.40,772.45) scale(0.92,1)" text-anchor="end">500</text><text transform="translate(482.40,737.95) scale(0.92,1)" text-anchor="end">750</text><text transform="translate(482.40,703.45) scale(0.92,1)" text-anchor="end">1000</text><text transform="translate(482.40,668.95) scale(0.92,1)" text-anchor="end">1250</text><text transform="translate(482.40,634.45) scale(0.92,1)" text-anchor="end">1500</text><text transform="translate(482.40,599.95) scale(0.92,1)" text-anchor="end">1750</text><text transform="translate(482.40,565.45) scale(0.92,1)" text-anchor="end">2000</text><text transform="translate(482.40,530.95) scale(0.92,1)" text-anchor="end">2250</text><text transform="translate(482.40,496.45) scale(0.92,1)" text-anchor="end">2500</text><text transform="translate(489.50,858.40) scale(0.92,1)" text-anchor="middle">0</text><text transform="translate(554.20,858.40) scale(0.92,1)" text-anchor="middle">50</text><text transform="translate(618.90,858.40) scale(0.92,1)" text-anchor="middle">100</text><text transform="translate(683.60,858.40) scale(0.92,1)" text-anchor="middle">150</text><text transform="translate(748.30,858.40) scale(0.92,1)" text-anchor="middle">200</text><text transform="translate(813.00,858.40) scale(0.92,1)" text-anchor="middle">250</text><text transform="translate(652.90,884.90) scale(0.92,1)" text-anchor="middle">(g)</text></g><g font-family='"Liberation Sans", sans-serif' font-size="21.5" fill="#1a1a1a"><text transform="translate(919.60,841.45) scale(0.92,1)" text-anchor="end">0</text><text transform="translate(919.60,806.95) scale(0.92,1)" text-anchor="end">250</text><text transform="translate(919.60,772.45) scale(0.92,1)" text-anchor="end">500</text><text transform="translate(919.60,737.95) scale(0.92,1)" text-anchor="end">750</text><text transform="translate(919.60,703.45) scale(0.92,1)" text-anchor="end">1000</text><text transform="translate(919.60,668.95) scale(0.92,1)" text-anchor="end">1250</text><text transform="translate(919.60,634.45) scale(0.92,1)" text-anchor="end">1500</text><text transform="translate(919.60,599.95) scale(0.92,1)" text-anchor="end">1750</text><text transform="translate(919.60,565.45) scale(0.92,1)" text-anchor="end">2000</text><text transform="translate(919.60,530.95) scale(0.92,1)" text-anchor="end">2250</text><text transform="translate(919.60,496.45) scale(0.92,1)" text-anchor="end">2500</text><text transform="translate(926.70,858.40) scale(0.92,1)" text-anchor="middle">0</text><text transform="translate(991.40,858.40) scale(0.92,1)" text-anchor="middle">50</text><text transform="translate(1056.10,858.40) scale(0.92,1)" text-anchor="middle">100</text><text transform="translate(1120.80,858.40) scale(0.92,1)" text-anchor="middle">150</text><text transform="translate(1185.50,858.40) scale(0.92,1)" text-anchor="middle">200</text><text transform="translate(1250.20,858.40) scale(0.92,1)" text-anchor="middle">250</text><text transform="translate(1090.10,884.90) scale(0.92,1)" text-anchor="middle">(h)</text></g></svg>
</body></html>
